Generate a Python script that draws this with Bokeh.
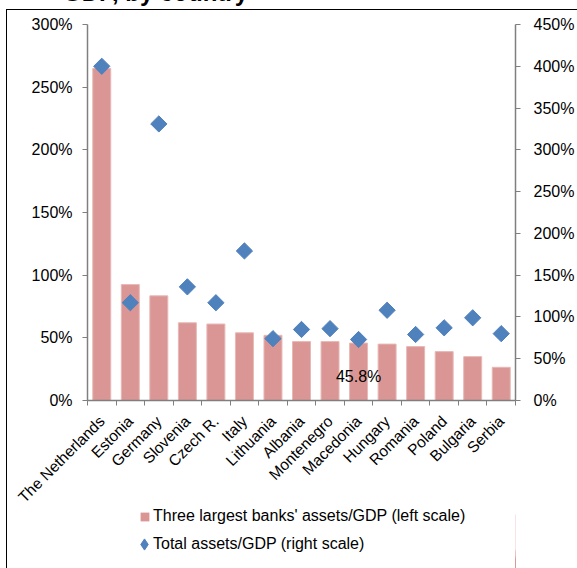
import math
from bokeh.plotting import figure
from bokeh.layouts import column
from bokeh.models import (Range1d, LinearAxis, FixedTicker, PrintfTickFormatter,
                          Legend, LegendItem, ColumnDataSource, Div)
from bokeh.core.properties import value
from bokeh.embed import file_html
from bokeh.resources import INLINE

title_text = "GDP, by country"
countries = ["The Netherlands", "Estonia", "Germany", "Slovenia", "Czech R.", "Italy",
             "Lithuania", "Albania", "Montenegro", "Macedonia", "Hungary", "Romania",
             "Poland", "Bulgaria", "Serbia"]
top3_assets_gdp = [265, 92.5, 83.5, 62, 61, 54, 52, 47, 47, 45.8, 45, 43, 39, 35, 26.5]
total_assets_gdp = [400, 117, 331, 136, 117, 179, 74, 85, 86, 73, 108, 79, 87, 99, 80]
left_ticks = [0, 50, 100, 150, 200, 250, 300]
right_ticks = [0, 50, 100, 150, 200, 250, 300, 350, 400, 450]
macedonia_label = "45.8%"
legend_labels = ["Three largest banks' assets/GDP (left scale)",
                 "Total assets/GDP (right scale)"]

FONT = "Liberation Sans"
AXIS_COL = "#7f7f7f"
TXT = "#000000"
BAR_COL = "#D99694"
DOT_COL = "#4F81BD"

xs = [i + 0.5 for i in range(len(countries))]
src = ColumnDataSource(dict(x=xs, bars=top3_assets_gdp, dots=total_assets_gdp))

W = 570
H1, H2, OVERLAP = 520, 61, 23
p = figure(width=W, height=H1, output_backend="svg", toolbar_location=None,
           x_range=Range1d(0, len(countries)), y_range=Range1d(0, 300),
           min_border_left=80, min_border_right=62, min_border_top=14, min_border_bottom=130,
           x_axis_type=None, y_axis_location="left")
p.extra_y_ranges = {"right": Range1d(0, 450)}
p.outline_line_color = None
p.xgrid.visible = False
p.ygrid.visible = False
p.background_fill_color = "white"
p.border_fill_color = "white"

p.vbar(x="x", top="bars", width=0.63, source=src, fill_color=BAR_COL,
       line_color="#E8B8B6", line_width=1)
p.scatter(x="x", y="dots", source=src, marker="square", angle=math.pi / 4,
          size=11.5, fill_color=DOT_COL, line_color=DOT_COL, y_range_name="right")

yl = p.yaxis[0]
yl.ticker = FixedTicker(ticks=left_ticks)
yl.formatter = PrintfTickFormatter(format="%d%%")
right = LinearAxis(y_range_name="right", ticker=FixedTicker(ticks=right_ticks),
                   formatter=PrintfTickFormatter(format="%d%%"))
p.add_layout(right, "right")
xa = LinearAxis(ticker=FixedTicker(ticks=xs, minor_ticks=list(range(len(countries) + 1))),
                major_label_overrides={x: c for x, c in zip(xs, countries)})
p.add_layout(xa, "below")

for ax, so in ((yl, 10), (right, 13)):
    ax.axis_line_color = AXIS_COL
    ax.axis_line_width = 1.5
    ax.major_tick_line_color = AXIS_COL
    ax.major_tick_out = 5
    ax.major_tick_in = 0
    ax.minor_tick_line_color = None
    ax.major_label_standoff = so
    ax.major_label_text_font = FONT
    ax.major_label_text_font_size = "16px"
    ax.major_label_text_color = TXT

xa.axis_line_color = AXIS_COL
xa.axis_line_width = 1.5
xa.major_tick_line_color = None
xa.minor_tick_line_color = AXIS_COL
xa.minor_tick_out = 5
xa.minor_tick_in = 0
xa.major_label_orientation = math.pi / 4
xa.major_label_standoff = 12
xa.major_label_text_font = FONT
xa.major_label_text_font_size = "15.5px"
xa.major_label_text_color = TXT

mi = countries.index("Macedonia")
p.text(x=[xs[mi]], y=[19], text=[macedonia_label], text_font=value(FONT),
       text_font_size="16px", text_align="center", text_baseline="middle", text_color=TXT)

# legend panel (separate transparent figure under the chart; its view shows no data)
lf = figure(width=W, height=H2, output_backend="svg", toolbar_location=None,
            x_range=Range1d(-2, -1), y_range=Range1d(0, 300), min_border=0,
            x_axis_type=None, y_axis_type=None)
lf.styles = {"margin-top": f"-{OVERLAP}px"}
lf.outline_line_color = None
lf.xgrid.visible = False
lf.ygrid.visible = False
lf.background_fill_alpha = 0
lf.border_fill_alpha = 0
r_bar = lf.vbar(x="x", top="bars", width=0.63, source=src, fill_color=BAR_COL,
                line_color=None)
r_dot = lf.scatter(x="x", y="bars", source=src, marker="diamond",
                   size=8, fill_color=DOT_COL, line_color=DOT_COL)
r_blank = lf.scatter(x="x", y="bars", source=src, marker="square", size=1,
                     fill_alpha=0, line_alpha=0)
common = dict(orientation="vertical", margin=0, padding=0, label_height=14,
              label_text_font=FONT, label_text_font_size="16px", label_text_color=TXT,
              border_line_color=None, background_fill_alpha=0)
leg_a = Legend(items=[LegendItem(label=legend_labels[0], renderers=[r_bar])],
               location=(52, 43), glyph_width=11, glyph_height=11,
               label_standoff=3, **common)
leg_b_key = Legend(items=[LegendItem(label=" ", renderers=[r_dot])],
                   location=(43, 10), glyph_width=28, glyph_height=28,
                   label_standoff=0, **common)
leg_b_text = Legend(items=[LegendItem(label=legend_labels[1], renderers=[r_blank])],
                    location=(65, 15), glyph_width=1, glyph_height=14,
                    label_standoff=0, **common)
for lg in (leg_a, leg_b_key, leg_b_text):
    lf.add_layout(lg, "center")

title = Div(text=('<div style="position:relative; top:-19px; left:0; width:248px; '
                  'text-align:right; white-space:nowrap; font-family:\'Liberation Sans\'; '
                  'font-weight:bold; font-size:24px; line-height:24px; color:#000;">'
                  + title_text + '</div>'),
            width=577, height=9, margin=0, styles={"overflow": "hidden"})

body = column(p, lf, spacing=0,
              styles={"margin-left": "6px", "border-left": "1px solid black",
                      "border-top": "1px solid black"})
layout = column(title, body, spacing=0)

open("out.html", "w").write(file_html(layout, INLINE))
